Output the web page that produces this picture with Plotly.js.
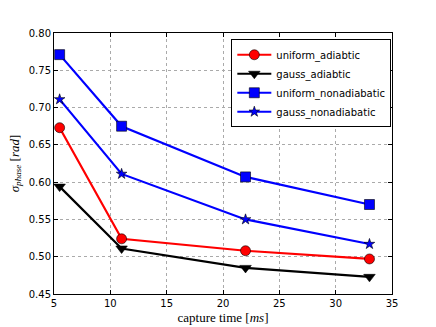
<!DOCTYPE html>
<html>
<head>
<meta charset="utf-8">
<script src="https://cdn.plot.ly/plotly-3.0.1.min.js"></script>
<style>
  html, body { margin: 0; padding: 0; background: #fff; }
  #chart { width: 436px; height: 327px; }
</style>
</head>
<body>
<div id="chart"></div>
<script>
const captureTime = [5.5, 11, 22, 33];
const uniformAdiabtic = [0.673, 0.524, 0.508, 0.497];
const gaussAdiabtic = [0.594, 0.511, 0.485, 0.473];
const uniformNonadiabatic = [0.771, 0.675, 0.607, 0.570];
const gaussNonadiabatic = [0.711, 0.611, 0.550, 0.517];

function serie(name, y, color, symbol, size) {
  return {
    x: captureTime,
    y: y,
    name: name,
    type: "scatter",
    mode: "lines+markers",
    line: { color: color, width: 2.2 },
    marker: { symbol: symbol, size: size, color: color, line: { color: "#000", width: 0.6 } },
  };
}

const traces = [
  serie("uniform_adiabtic", uniformAdiabtic, "#ff0000", "circle", 10),
  serie("gauss_adiabtic", gaussAdiabtic, "#000000", "triangle-down", 10),
  serie("uniform_nonadiabatic", uniformNonadiabatic, "#0000ff", "square", 10),
  serie("gauss_nonadiabatic", gaussNonadiabatic, "#0000ff", "star", 8),
];

const axis = {
  showline: true, linecolor: "#000", linewidth: 1, mirror: "ticks",
  ticks: "inside", ticklen: 4, tickcolor: "#000",
  showgrid: true, gridcolor: "#aaa", griddash: "dot", gridwidth: 0.6,
  zeroline: false,
  tickfont: { family: "DejaVu Sans", size: 10, color: "#000" },
};

Plotly.newPlot("chart", traces, {
  width: 436, height: 327,
  margin: { l: 54, r: 44, t: 33, b: 33 },
  paper_bgcolor: "#fff", plot_bgcolor: "#fff",
  showlegend: true,
  legend: {
    x: 0.998, xanchor: "right", y: 0.976, yanchor: "top",
    bgcolor: "#fff", bordercolor: "#000", borderwidth: 1,
    font: { family: "DejaVu Sans", size: 10, color: "#000" },
    tracegroupgap: 0, itemwidth: 34,
  },
  xaxis: Object.assign({}, axis, {
    range: [5, 35], dtick: 5,
    title: { text: "capture time [<i>ms</i>]", standoff: 4, font: { family: "Liberation Serif", size: 13, color: "#000" } },
  }),
  yaxis: Object.assign({}, axis, {
    range: [0.45, 0.80], dtick: 0.05, tickformat: ".2f",
    title: { text: "<i>σ</i><sub><i>phase</i></sub> [<i>rad</i>]", standoff: 6, font: { family: "Liberation Serif", size: 13, color: "#000" } },
  }),
}, { displayModeBar: false });
</script>
</body>
</html>
